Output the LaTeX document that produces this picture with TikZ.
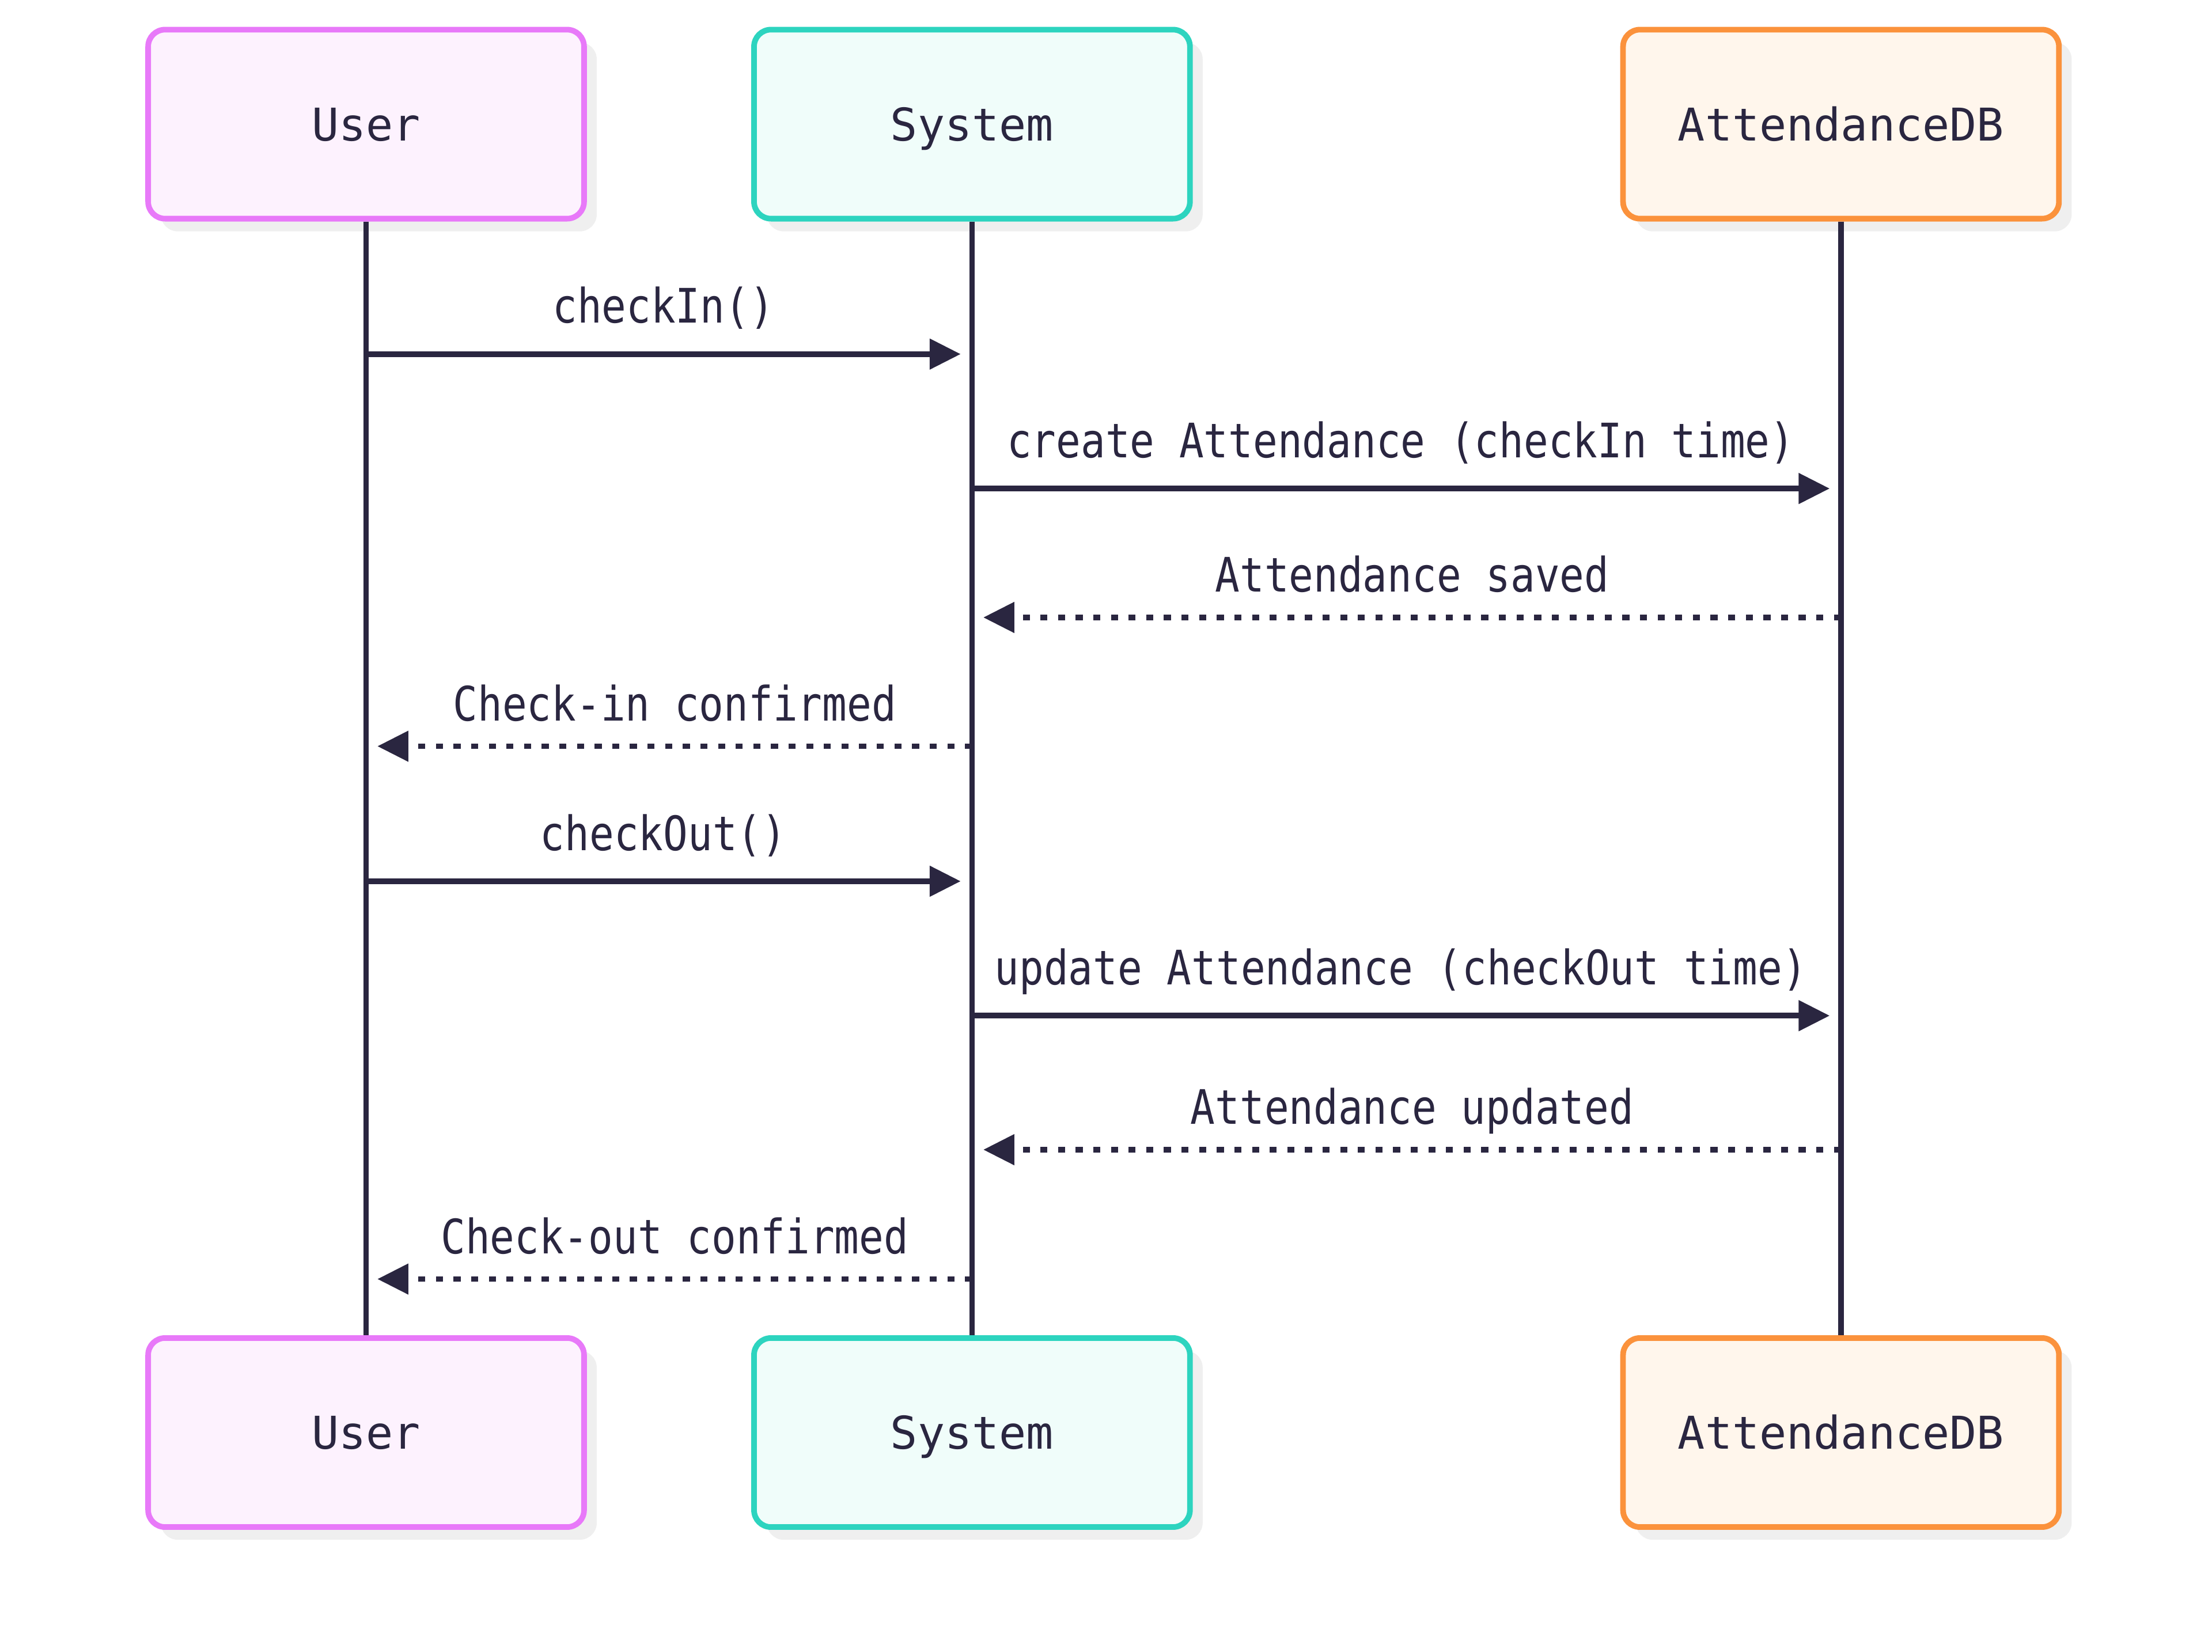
\documentclass[tikz,border=0pt]{standalone}
\usepackage{fontspec}
\usetikzlibrary{arrows.meta,shadows,calc}
\newfontfamily\boxfont{DejaVu Sans Mono}
\newfontfamily\msgfont[FakeStretch=0.86]{DejaVu Sans Mono}
\definecolor{ink}{RGB}{42,38,64}
\definecolor{userline}{HTML}{E879F9}
\definecolor{userfill}{HTML}{FDF2FE}
\definecolor{sysline}{HTML}{2DD4BF}
\definecolor{sysfill}{HTML}{F0FDFA}
\definecolor{dbline}{HTML}{FB923C}
\definecolor{dbfill}{HTML}{FFF6EC}
\definecolor{shadowgray}{RGB}{239,239,239}
\tikzset{
  actor/.style={draw, line width=4pt, rounded corners=12pt,
    minimum width=309pt, minimum height=134pt, inner sep=0pt,
    text height=23.4pt, text depth=0pt,
    font=\boxfont\fontsize{32}{38}\selectfont, text=ink,
    drop shadow={shadow xshift=9pt, shadow yshift=-9pt, fill=shadowgray, opacity=1}},
  useractor/.style={actor, draw=userline, fill=userfill},
  sysactor/.style={actor, draw=sysline, fill=sysfill},
  dbactor/.style={actor, draw=dbline, fill=dbfill},
  lifeline/.style={draw=ink, line width=3.8pt},
  msg/.style={draw=ink, line width=4pt, -{Triangle[length=22pt,width=21pt]}},
  reply/.style={msg, dash pattern=on 5pt off 7.5pt},
  msglabel/.style={font=\msgfont\fontsize{33.7}{40}\selectfont, text=ink, anchor=base, inner sep=0pt},
}
\begin{document}
\begin{tikzpicture}[x=1pt,y=-1pt]
\useasboundingbox[fill=white] (0,0) rectangle (1568,1171);
% actors
\node[useractor] (ut) at (259.5,88) {User};
\node[sysactor]  (st) at (689,88) {System};
\node[dbactor]   (dt) at (1305,88) {AttendanceDB};
\node[useractor] (ub) at (259.5,1015.5) {User};
\node[sysactor]  (sb) at (689,1015.5) {System};
\node[dbactor]   (db) at (1305,1015.5) {AttendanceDB};
% lifelines
\draw[lifeline] (ut) -- (ub);
\draw[lifeline] (st) -- (sb);
\draw[lifeline] (dt) -- (db);
% message anchor points
\foreach \n/\y in {1/251,2/346.3,3/437.7,4/529,5/624.7,6/720,7/815,8/906.7}{
  \coordinate (mu\n) at (ut.south |- 0,\y);
  \coordinate (ms\n) at (st.south |- 0,\y);
  \coordinate (md\n) at (dt.south |- 0,\y);
}
% messages
\draw[msg] (mu1) -- ([xshift=-8pt]ms1) node[msglabel, midway, yshift=22pt] {checkIn()};
\draw[msg] (ms2) -- ([xshift=-8pt]md2) node[msglabel, midway, yshift=22pt] {create Attendance (checkIn time)};
\draw[reply] (md3) -- ([xshift=8pt]ms3) node[msglabel, midway, yshift=18pt] {Attendance saved};
\draw[reply] (ms4) -- ([xshift=8pt]mu4) node[msglabel, midway, yshift=18pt] {Check-in confirmed};
\draw[msg] (mu5) -- ([xshift=-8pt]ms5) node[msglabel, midway, yshift=22pt] {checkOut()};
\draw[msg] (ms6) -- ([xshift=-8pt]md6) node[msglabel, midway, yshift=22pt] {update Attendance (checkOut time)};
\draw[reply] (md7) -- ([xshift=8pt]ms7) node[msglabel, midway, yshift=18pt] {Attendance updated};
\draw[reply] (ms8) -- ([xshift=8pt]mu8) node[msglabel, midway, yshift=18pt] {Check-out confirmed};
\end{tikzpicture}
\end{document}
